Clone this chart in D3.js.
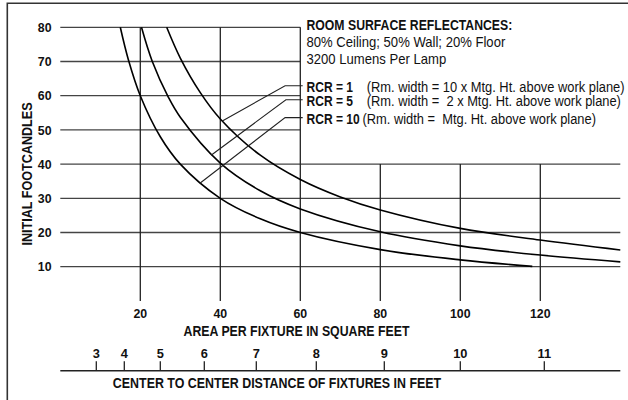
<!DOCTYPE html>
<html>
<head>
<meta charset="utf-8">
<script src="https://cdn.jsdelivr.net/npm/d3@7"></script>
<style>
  body { margin: 0; background: #fff; }
  text { font-family: "Liberation Sans", Arial, sans-serif; fill: #111; }
</style>
</head>
<body>
<div id="main"></div>
<script>
const w = 628, h = 400

// footcandle ticks and area ticks
const fcTicks = [10, 20, 30, 40, 50, 60, 70, 80]
const areaTicks = [20, 40, 60, 80, 100, 120]
const distTicks = [3, 4, 5, 6, 7, 8, 9, 10, 11]

// curves: [area sq ft, initial footcandles]
const rcr1 = [[26.6, 80], [30, 71], [35, 60.9], [40, 53.2], [50, 42.6], [60, 35.5], [70, 30.4], [80, 26.6], [100, 21.2], [120, 17.8], [140, 14.9]]
const rcr5 = [[20.3, 80], [23, 70], [27, 59.6], [30, 53.7], [40, 40.3], [50, 32.2], [60, 26.9], [80, 20.2], [100, 16.1], [120, 13.4], [140, 11.4]]
const rcr10 = [[15, 80], [17, 70.6], [20, 60], [25, 48], [30, 40], [40, 30], [50, 24], [60, 20], [80, 15], [100, 12], [118, 10.1]]

const labels = ['RCR = 1', 'RCR = 5', 'RCR = 10']
const notes = ['(Rm. width = 10 x Mtg. Ht. above work plane)', '(Rm. width =  2 x Mtg. Ht. above work plane)', '(Rm. width =  Mtg. Ht. above work plane)']
// leader lines: point on curve -> elbow -> label
const leaderFrom = [[40.5, 52.6], [37.7, 42.6], [34.9, 34.4]]
const leaderElbow = [[56.2, 62.9], [56.4, 58.8], [56.2, 53.6]]
const header = ['ROOM SURFACE REFLECTANCES:', '80% Ceiling; 50% Wall; 20% Floor', '3200 Lumens Per Lamp']

const svg = d3.select('#main').append('svg').attr('width', w).attr('height', h)

const xScale = d3.scaleLinear().domain([0, 140]).range([60.3, 620.3])
const yScale = d3.scaleLinear().domain([10, 80]).range([266.7, 27.3])
// distance axis: area = distance^2
const dScale = d3.scalePow().exponent(2).domain([0, Math.sqrt(140)]).range([60.3, 620.3])

// condensed text: regular font squeezed sideways
function label(x, y, str, size, bold, sx, anchor) {
    return svg.append('text')
        .attr('transform', `translate(${x},${y}) scale(${sx},1)`)
        .attr('text-anchor', anchor || 'start')
        .style('font-size', size + 'px')
        .style('font-weight', bold ? 'bold' : 'normal')
        .style('white-space', 'pre')
        .text(str)
}

// frame
svg.append('path')
    .attr('d', 'M7.3,400V3.3H628')
    .attr('fill', 'none')
    .attr('stroke', '#333')
    .attr('stroke-width', 1.6)

// horizontal grid
svg.selectAll('.hg')
    .data(fcTicks)
    .enter()
    .append('line')
    .attr('x1', xScale(0))
    .attr('x2', d => d > 40 ? xScale(60) : xScale(140))
    .attr('y1', d => yScale(d))
    .attr('y2', d => yScale(d))
    .attr('stroke', '#444')
    .attr('stroke-width', 1.3)

// vertical grid
svg.selectAll('.vg')
    .data(areaTicks)
    .enter()
    .append('line')
    .attr('x1', d => xScale(d))
    .attr('x2', d => xScale(d))
    .attr('y1', d => d <= 60 ? yScale(80) : yScale(40))
    .attr('y2', yScale(0))
    .attr('stroke', '#222')
    .attr('stroke-width', 1.3)

// y labels
fcTicks.forEach(d => label(51.5, yScale(d) + 4.7, d, 13, true, 0.95, 'end'))

svg.append('text')
    .attr('transform', 'translate(31.5,174) rotate(-90) scale(0.9,1)')
    .attr('text-anchor', 'middle')
    .style('font-size', '14px')
    .style('font-weight', 'bold')
    .text('INITIAL FOOTCANDLES')

// x labels
areaTicks.forEach(d => label(xScale(d), 318, d, 13, true, 0.95, 'middle'))

label(296.5, 336, 'AREA PER FIXTURE IN SQUARE FEET', 14, true, 0.88, 'middle')

// distance axis
const dAxis = d3.axisTop(dScale)
    .tickValues(distTicks)
    .tickSize(9.5)
    .tickPadding(3)
    .tickSizeOuter(0)

const dg = svg.append('g')
    .attr('transform', 'translate(0,370.7)')
    .call(dAxis)
dg.select('.domain').attr('stroke', '#222').attr('stroke-width', 1.6).attr('d', `M${dScale.range()[0]},0H${dScale.range()[1]}`)
dg.selectAll('.tick line').attr('stroke', '#222').attr('stroke-width', 1.3)
dg.selectAll('.tick text')
    .attr('fill', '#111')
    .attr('transform', 'scale(0.95,1)')
    .attr('x', function(d) { return 0 })
    .style('font-size', '13.5px')
    .style('font-weight', 'bold')
    .style('font-family', '"Liberation Sans", Arial, sans-serif')
// keep the squeezed labels centred on their ticks
dg.selectAll('.tick').attr('transform', d => `translate(${dScale(d)},0)`)

label(277, 388, 'CENTER TO CENTER DISTANCE OF FIXTURES IN FEET', 14, true, 0.887, 'middle')

// curves
const line = d3.line()
    .x(d => xScale(d[0]))
    .y(d => yScale(d[1]))
    .curve(d3.curveCatmullRom.alpha(0.5))

svg.selectAll('.curve')
    .data([rcr1, rcr5, rcr10])
    .enter()
    .append('path')
    .attr('d', line)
    .attr('fill', 'none')
    .attr('stroke', '#000')
    .attr('stroke-width', 1.6)

// leader lines
svg.selectAll('.leader')
    .data(labels)
    .enter()
    .append('path')
    .attr('d', (d, i) => {
        const p0 = leaderFrom[i], p1 = leaderElbow[i]
        return `M${xScale(p0[0])},${yScale(p0[1])}L${xScale(p1[0])},${yScale(p1[1])}H${xScale(60.6)}`
    })
    .attr('fill', 'none')
    .attr('stroke', '#222')
    .attr('stroke-width', 1.1)

// header text
header.forEach((d, i) => label(306.5, 30 + i * 16.8, d, 14, i === 0, i === 0 ? 0.875 : 0.935))

labels.forEach((d, i) => {
    const y = yScale(leaderElbow[i][1]) + 6.2
    label(306.5, y, d, 14, true, 0.86)
    label(i === 2 ? 362.5 : 366.7, y, notes[i], 14, false, 0.92)
})
</script>
</body>
</html>
